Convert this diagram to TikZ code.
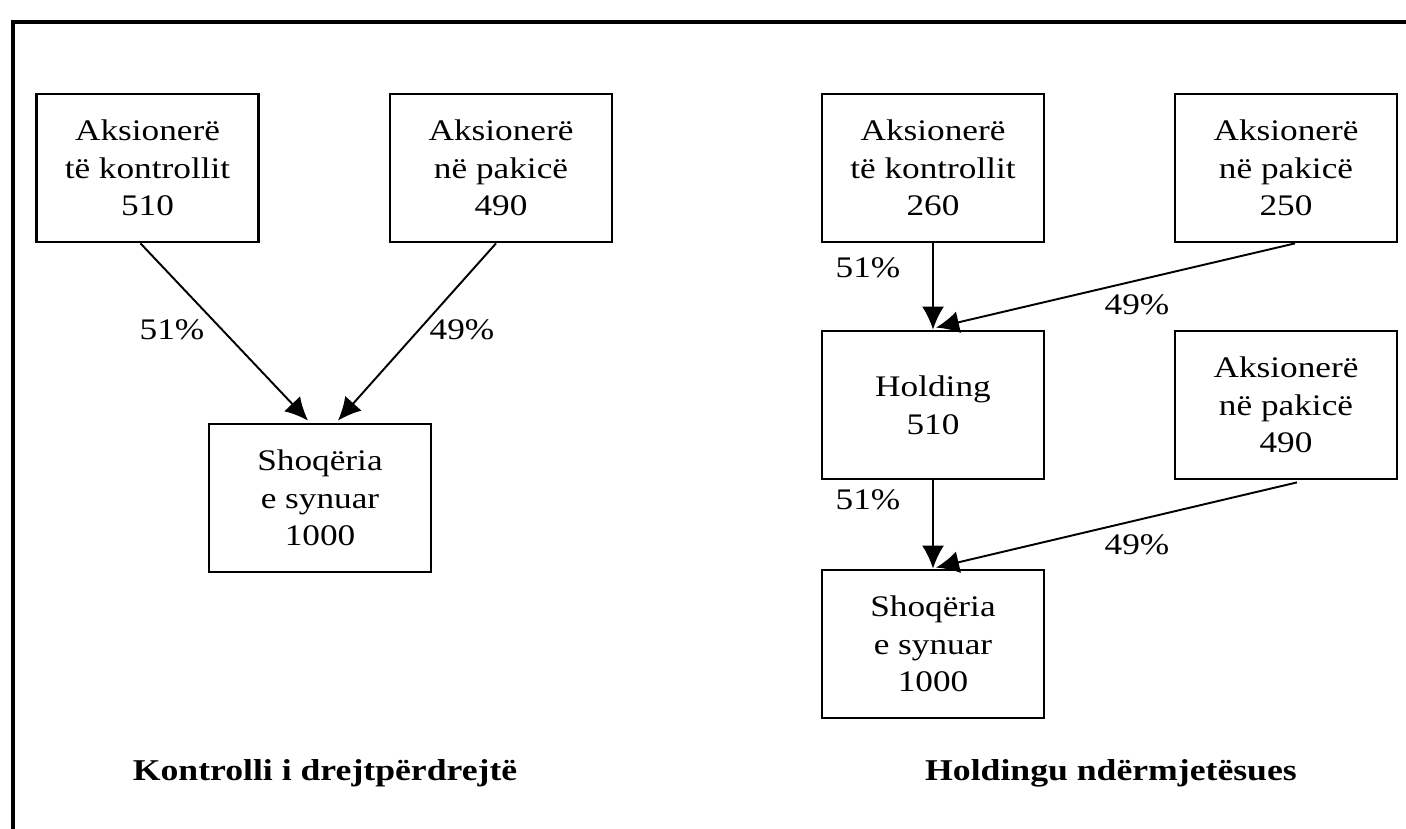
\documentclass[tikz,border=0pt]{standalone}
\usepackage{fontspec}
\setmainfont{Liberation Serif}
\newfontfamily\gjere[FakeStretch=1.18]{Liberation Serif}
\usetikzlibrary{arrows.meta,calc}
\begin{document}
\begin{tikzpicture}[
		kuti/.style={draw, line width=1.6pt, minimum width=4.44cm, minimum height=2.96cm, align=center, inner sep=0pt, font=\gjere\fontsize{17}{21.5}\selectfont},
		shigjete/.style={line width=1.1pt, -{Latex[length=4.6mm,width=4.4mm]}},
		perqind/.style={font=\gjere\fontsize{17}{21.5}\selectfont},
		titull/.style={font=\gjere\fontsize{17.2}{21}\selectfont\bfseries}
	]
			\useasboundingbox (0,0) rectangle (28.12,16.58);
			\draw[line width=2pt] (0.26,0) -- (0.26,16.14) -- (28.12,16.14);
			
			% kontrolli i drejtperdrejte
			\node[kuti] (A1) at (2.95,13.22) {Aksionerë\\të kontrollit\\510};
			\node[kuti] (A2) at (10.02,13.22) {Aksionerë\\në pakicë\\490};
			\node[kuti] (T1) at (6.40,6.62) {Shoqëria\\e synuar\\1000};
			
			\draw[shigjete] ($(A1.south)+(-0.14,0)$) -- ($(T1.north)+(-0.24,0.04)$);
			\draw[shigjete] ($(A2.south)+(-0.10,0)$) -- ($(T1.north)+(0.36,0.04)$);
			
			\node[perqind] (p1) at (3.44,9.98) {51\%};
			\node[perqind] (p2) at (9.24,9.98) {49\%};
			
			\node[titull] (k1) at (6.50,1.12) {Kontrolli i drejtpërdrejtë};
			
			% holdingu nderrmjetesues
			\node[kuti] (B1) at (18.66,13.22) {Aksionerë\\të kontrollit\\260};
			\node[kuti] (B2) at (25.72,13.22) {Aksionerë\\në pakicë\\250};
			\node[kuti] (H) at (18.66,8.48) {Holding\\510};
			\node[kuti] (B3) at (25.72,8.48) {Aksionerë\\në pakicë\\490};
			\node[kuti] (T2) at (18.66,3.70) {Shoqëria\\e synuar\\1000};
			
			\draw[shigjete] (B1.south) -- (H.north);
			\draw[shigjete] ($(B2.south)+(0.18,0)$) -- ($(H.north)+(0.06,0.04)$);
			\draw[shigjete] (H.south) -- (T2.north);
			\draw[shigjete] ($(B3.south)+(0.22,-0.04)$) -- ($(T2.north)+(0.06,0.02)$);
			
			\node[perqind] (p3) at (17.36,11.22) {51\%};
			\node[perqind] (p4) at (22.74,10.48) {49\%};
			\node[perqind] (p5) at (17.36,6.58) {51\%};
			\node[perqind] (p6) at (22.74,5.68) {49\%};
			
			\node[titull] (k2) at (22.22,1.12) {Holdingu ndërmjetësues};
			
		\end{tikzpicture}
\end{document}
